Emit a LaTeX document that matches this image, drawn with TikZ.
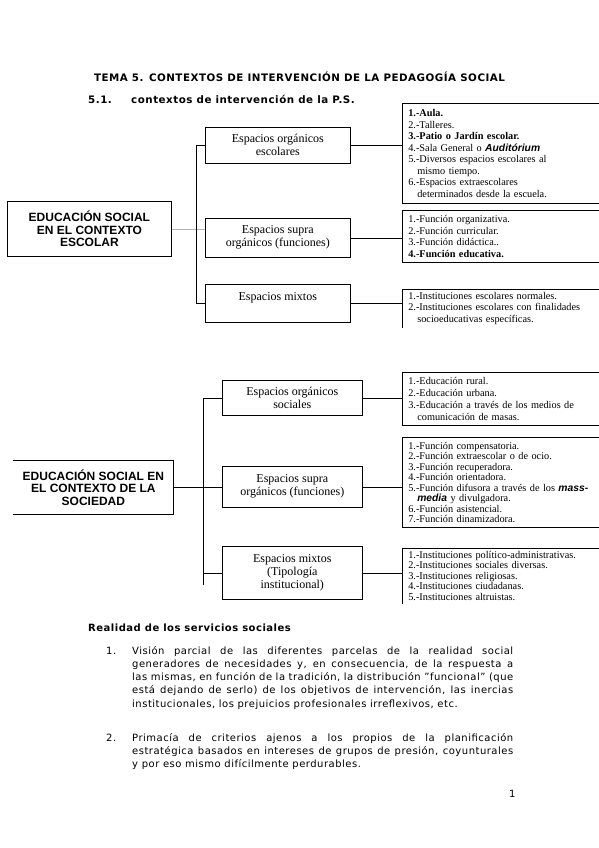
\documentclass[tikz,border=0pt]{standalone}
\usepackage{fontspec}
\setmainfont{DejaVu Sans}[LetterSpace=5]
\newfontfamily\tnr{Liberation Serif}
\newfontfamily\arial{Liberation Sans}
\usepackage{tikz}
\usetikzlibrary{positioning}

\begin{document}
\begin{tikzpicture}[x=1pt,y=-1pt,
  every node/.style={inner sep=0pt},
  caja/.style={line width=0.8pt,font=\arial\bfseries\fontsize{12}{12.5}\selectfont,align=center,anchor=north west},
  rama/.style={draw,line width=0.6pt,font=\tnr\fontsize{12}{13}\selectfont,align=center,anchor=north west},
  lista/.style={line width=0.6pt,font=\tnr\fontsize{10.3}{11.5}\selectfont,align=left,anchor=north west,text width=196pt,inner xsep=6pt,inner ysep=3pt},
  parrafo/.style={font=\fontsize{10}{13.3}\selectfont,anchor=base west,text width=381pt,align=justify},
  sangria/.style={font=\fontsize{10}{13.3}\selectfont,anchor=base west}]
\useasboundingbox (0,0) rectangle (599,848);

% cabecera
\node[font=\bfseries\fontsize{10.3}{12}\selectfont,anchor=base] (tema) at (299.5,82) {TEMA 5. CONTEXTOS DE INTERVENCIÓN DE LA PEDAGOGÍA SOCIAL};
\node[font=\bfseries\fontsize{10.3}{12}\selectfont,anchor=base west] (sec) at (88,103) {5.1.};
\node[font=\bfseries\fontsize{10.3}{12}\selectfont,anchor=base west] (sectxt) at (131,103) {contextos de intervención de la P.S.};

% esquema 1: contexto escolar
\node[caja,draw,minimum width=164pt,minimum height=55pt] (e1) at (7,201) {EDUCACIÓN SOCIAL\\EN EL CONTEXTO\\ESCOLAR};
\node[rama,minimum width=145pt,minimum height=36pt] (o1) at (205,127) {Espacios orgánicos\\escolares};
\node[rama,minimum width=145pt,minimum height=39pt] (s1) at (205,218) {Espacios supra\\orgánicos (funciones)};
\node[rama,minimum width=145pt,minimum height=38pt] (m1) at (205,284) {Espacios mixtos\\[0pt]};
\node[lista,draw,minimum height=100pt] (lo1) at (402,103) {\textbf{1.-Aula.}\\2.-Talleres.\\\textbf{3.-Patio o Jardín escolar.}\\4.-Sala General o {\arial\bfseries\itshape Auditórium}\\5.-Diversos espacios escolares al\\\hspace*{9pt}mismo tiempo.\\6.-Espacios extraescolares\\\hspace*{9pt}determinados desde la escuela.};
\node[lista,draw,minimum height=52pt] (ls1) at (402,210) {1.-Función organizativa.\\2.-Función curricular.\\3.-Función didáctica..\\\textbf{4.-Función educativa.}};
\node[lista] (lm1) at (402,289) {1.-Instituciones escolares normales.\\2.-Instituciones escolares con finalidades\\\hspace*{9pt}socioeducativas específicas.};
\draw[gray!60] (e1.east) -- (e1.east -| s1.west);
\draw (o1.west) -- ++(-9,0) |- (m1.west);
\draw (o1.east) -- (o1.east -| lo1.west);
\draw (s1.east) -- (s1.east -| ls1.west);
\draw (m1.east) -- (m1.east -| lm1.west);
\draw[line width=0.6pt] (lm1.north east) -- (lm1.north west) -- (lm1.south west);

% esquema 2: contexto de la sociedad
\node[caja,minimum width=160pt,minimum height=54pt] (e2) at (13,460) {EDUCACIÓN SOCIAL EN\\EL CONTEXTO DE LA\\SOCIEDAD};
\node[rama,minimum width=140pt,minimum height=35pt] (o2) at (222,380) {Espacios orgánicos\\sociales};
\node[rama,minimum width=140pt,minimum height=41pt] (s2) at (222,466) {Espacios supra\\orgánicos (funciones)};
\node[rama,minimum width=140pt,minimum height=53pt] (m2) at (222,546) {Espacios mixtos\\(Tipología\\institucional)};
\node[lista,draw,minimum height=53pt,font=\tnr\fontsize{10.3}{12}\selectfont] (lo2) at (402,372) {1.-Educación rural.\\2.-Educación urbana.\\3.-Educación a través de los medios de\\\hspace*{9pt}comunicación de masas.};
\node[lista,draw,minimum height=90pt,font=\tnr\fontsize{10.3}{10.5}\selectfont] (ls2) at (402,437) {1.-Función compensatoria.\\2.-Función extraescolar o de ocio.\\3.-Función recuperadora.\\4.-Función orientadora.\\5.-Función difusora a través de los {\arial\bfseries\itshape mass-}\\\hspace*{9pt}{\arial\bfseries\itshape media} y divulgadora.\\6.-Función asistencial.\\7.-Función dinamizadora.};
\node[lista,font=\tnr\fontsize{10.3}{10.5}\selectfont] (lm2) at (402,548) {1.-Instituciones político-administrativas.\\2.-Instituciones sociales diversas.\\3.-Instituciones religiosas.\\4.-Instituciones ciudadanas.\\5.-Instituciones altruistas.};
\draw[line width=0.8pt] (e2.north west) -- (e2.north east) -- (e2.south east) -- (e2.south west);
\draw (e2.east) -- (e2.east -| s2.west);
\draw (o2.west) -- ++(-19,0) -- ++(0,187);
\draw (m2.west) -- ++(-19,0);
\draw (o2.east) -- (o2.east -| lo2.west);
\draw (s2.east) -- (s2.east -| ls2.west);
\draw (m2.east) -- (m2.east -| lm2.west);
\draw[line width=0.6pt] (lm2.north east) -- (lm2.north west) -- (lm2.south west);

% texto
\node[font=\bfseries\fontsize{10}{12}\selectfont,anchor=base west] (real) at (88,631) {Realidad de los servicios sociales};
\node[sangria] (n1) at (106,654) {1.};
\node[parrafo] (p1) at (132,654) {Visión parcial de las diferentes parcelas de la realidad social\linebreak generadores de necesidades y, en consecuencia, de la respuesta a\linebreak las mismas, en función de la tradición, la distribución \char34 funcional\char34{} (que\linebreak está dejando de serlo) de los objetivos de intervención, las inercias\linebreak institucionales, los prejuicios profesionales irreflexivos, etc.};
\node[sangria] (n2) at (106,741) {2.};
\node[parrafo] (p2) at (132,741) {Primacía de criterios ajenos a los propios de la planificación\linebreak estratégica basados en intereses de grupos de presión, coyunturales\linebreak y por eso mismo difícilmente perdurables.};
\node[sangria] (pag) at (509,797) {1};
\end{tikzpicture}
\end{document}
